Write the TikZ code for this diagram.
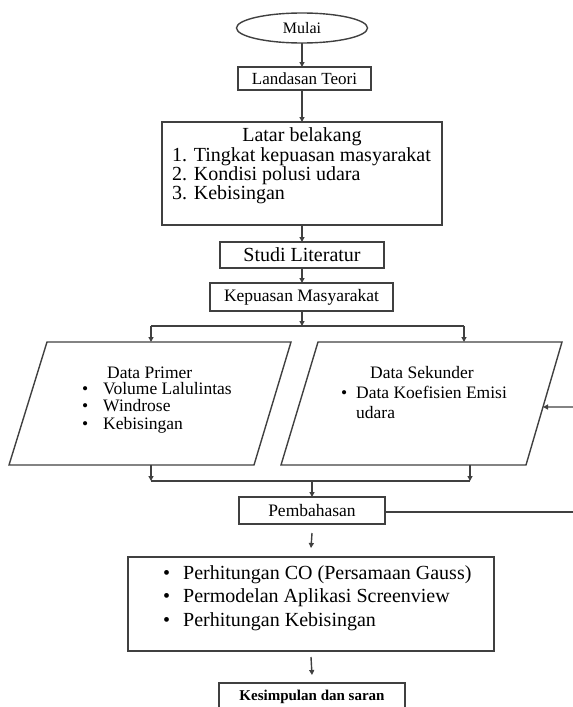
\documentclass[tikz,border=0pt]{standalone}
\usepackage{fontspec}
\setmainfont{Liberation Serif}
\usetikzlibrary{shapes.geometric}
\usetikzlibrary{arrows.meta}
\newcommand{\fsize}[1]{\fontsize{#1}{#1}\selectfont}
\def\thickness{1.4pt}
\tikzstyle{box}=[rectangle, draw=black!75, line width=\thickness, inner sep=0pt, outer sep=0pt]
\tikzstyle{startnode}=[ellipse, draw=black!75, line width=\thickness, inner sep=0pt, outer sep=0pt, minimum width=131pt, minimum height=30pt]
\tikzstyle{wire}=[line width=\thickness, draw=black!75]
\tikzstyle{txt}=[anchor=base west, inner sep=0pt]
\tikzset{>={Triangle[length=5pt,width=5pt]}}

\begin{document}
\begin{tikzpicture}[x=1pt, y=-1pt]
\clip (0,0) rectangle (573,707);
\node [startnode, font=\fsize{16}] (mulai) at (302,28) {Mulai};
\node [box, minimum width=133pt, minimum height=23pt, font=\fsize{17}] (landasan) at (304.5,78.5) {Landasan Teori};
\node [box, minimum width=280pt, minimum height=103pt] (latar) at (302,173.5) {};
\node [font=\fsize{20}, inner sep=0pt] (latarjudul) at (302,137) {Latar belakang};
\node [txt, font=\fsize{20}] (latar1) at (172,161) {1. Tingkat kepuasan masyarakat};
\node [txt, font=\fsize{20}] (latar2) at (172,180) {2. Kondisi polusi udara};
\node [txt, font=\fsize{20}] (latar3) at (172,199) {3. Kebisingan};
\node [box, minimum width=164pt, minimum height=26pt, font=\fsize{20}] (studi) at (302,255) {Studi Literatur};
\node [box, minimum width=183pt, minimum height=28pt, font=\fsize{17.5}] (kepuasan) at (301.5,297) {Kepuasan Masyarakat};

\draw [wire] (47,342) coordinate (lpNW) -- (291,342) coordinate (lpNE) -- (254,465) coordinate (lpSE) -- (9,465) coordinate (lpSW) -- cycle;
\draw [wire] (318,342) coordinate (rpNW) -- (562,342) coordinate (rpNE) -- (526,465) coordinate (rpSE) -- (281,465) coordinate (rpSW) -- cycle;
\node [txt, font=\fsize{17.5}] (primer) at (107,378) {Data Primer};
\foreach \t [count=\i] in {Volume Lalulintas, Windrose, Kebisingan}
  \node [txt, font=\fsize{17.5}] (primer\i) at (103,{394+17.5*(\i-1)}) {\llap{\textbullet\hspace{15pt}}\t};
\node [txt, font=\fsize{17.5}] (sekunder) at (370,378) {Data Sekunder};
\node [txt, font=\fsize{17.5}] (sekunder1) at (356,398) {\llap{\textbullet\hspace{9pt}}Data Koefisien Emisi};
\node [txt, font=\fsize{17.5}] (sekunder2) at (356,418) {udara};

\node [box, minimum width=146pt, minimum height=27pt, font=\fsize{17.5}] (pembahasan) at (312,510.5) {Pembahasan};
\node [box, minimum width=366pt, minimum height=94pt] (hasil) at (311,604) {};
\foreach \t [count=\i] in {Perhitungan CO (Persamaan Gauss), Permodelan Aplikasi Screenview, Perhitungan Kebisingan}
  \node [txt, font=\fsize{20}] (hasil\i) at (183,{579+23.5*(\i-1)}) {\llap{\textbullet\hspace{13pt}}\t};
\node [box, minimum width=186pt, minimum height=28pt, font=\fsize{15}\bfseries] (kesimpulan) at (312,697) {Kesimpulan dan saran};

\coordinate (splitL) at (151,326);
\coordinate (splitR) at (464,326);
\coordinate (joinL) at (151,481);
\coordinate (joinR) at (470,481);
\coordinate (balikin) at (580,407);
\coordinate (balikmid) at (500,407);
\coordinate (balikout) at (580,512);

\draw [wire, ->] (mulai.south -| 302,0) -- (landasan.north -| 302,0);
\draw [wire, ->] (landasan.south -| 302,0) -- (latar.north -| 302,0);
\draw [wire, ->] (latar.south) -- (studi.north);
\draw [wire, ->] (studi.south) -- (studi.south |- kepuasan.north);
\draw [wire, ->] (kepuasan.south -| 302,0) -- (splitL -| 302,0);
\draw [wire] (splitL) -- (splitR);
\draw [wire, ->] (splitL) -- (splitL |- lpNW);
\draw [wire, ->] (splitR) -- (splitR |- rpNW);
\draw [wire, ->] (joinL |- lpSW) -- (joinL);
\draw [wire, ->] (joinR |- rpSW) -- (joinR);
\draw [wire] (joinL) -- (joinR);
\draw [wire, ->] (pembahasan.north |- joinL) -- (pembahasan.north);
\draw [wire] (pembahasan.east |- balikout) -- (balikout);
\draw [wire, ->] (balikin) -- (intersection of rpNE--rpSE and balikin--balikmid);
\draw [wire, ->] ([yshift=-9pt]pembahasan.south) -- ([yshift=9pt]hasil.north);
\draw [wire, ->] ([yshift=-6pt]hasil.south) -- ([yshift=8pt]kesimpulan.north);
\end{tikzpicture}
\end{document}
